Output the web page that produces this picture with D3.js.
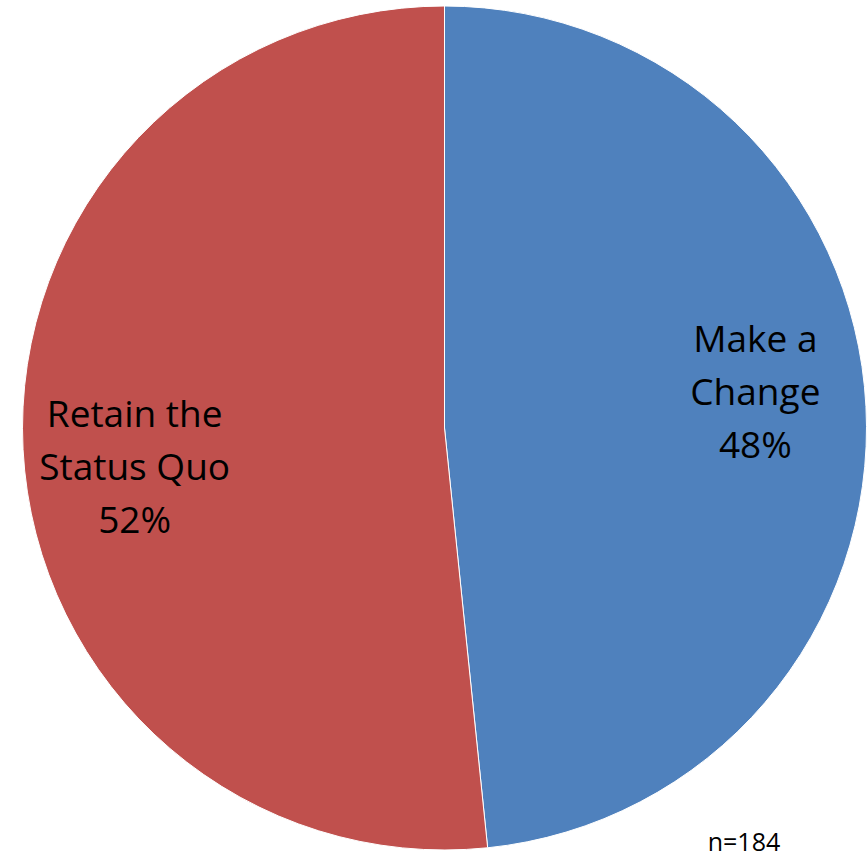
<!DOCTYPE html>
<html>
<head>
<meta charset="utf-8">
<script src="https://cdn.jsdelivr.net/npm/d3@7"></script>
<style>
html,body{margin:0;padding:0;background:#fff;overflow:hidden;}
svg{display:block;}
</style>
</head>
<body>
<script>
const categories = ["Make a Change", "Retain the Status Quo"];
const labelLines = [["Make a", "Change"], ["Retain the", "Status Quo"]];
const counts = [89, 95];
const percentLabels = ["48%", "52%"];
const colors = ["#4F81BD", "#C0504D"];
const sampleNote = "n=184";

const W = 867, H = 852;
const cx = 444.5, cy = 428, R = 422;

const svg = d3.select("body").append("svg").attr("width", W).attr("height", H);
const g = svg.append("g").attr("transform", `translate(${cx},${cy})`);

const pie = d3.pie().sort(null).value(d => d)(counts);
const arc = d3.arc().innerRadius(0).outerRadius(R);

g.selectAll("path.slice").data(pie).join("path")
  .attr("class", "slice")
  .attr("d", arc)
  .attr("fill", (d, i) => colors[i])
  .attr("stroke", "#ffffff")
  .attr("stroke-width", 1);

// labels
const labelArc = d3.arc().innerRadius(R * 0.74).outerRadius(R * 0.74);
const labelNudge = [[-1, -19], [2, 24]];
const lineH = 53;
const fontFamily = "'Open Sans', sans-serif";
pie.forEach((d, i) => {
  const [x0, y0] = labelArc.centroid(d);
  const x = x0 + labelNudge[i][0], y = y0 + labelNudge[i][1];
  const lines = labelLines[i].concat([percentLabels[i]]);
  const t = g.append("text")
    .attr("text-anchor", "middle")
    .attr("font-family", fontFamily)
    .attr("font-size", 37)
    .attr("fill", "#000");
  lines.forEach((ln, k) => {
    t.append("tspan")
      .attr("x", x)
      .attr("y", y + (k - 1) * lineH + 12)
      .text(ln);
  });
});

svg.append("text")
  .attr("x", 744).attr("y", 851)
  .attr("text-anchor", "middle")
  .attr("font-family", fontFamily)
  .attr("font-size", 25)
  .attr("fill", "#000")
  .text(sampleNote);
</script>
</body>
</html>
